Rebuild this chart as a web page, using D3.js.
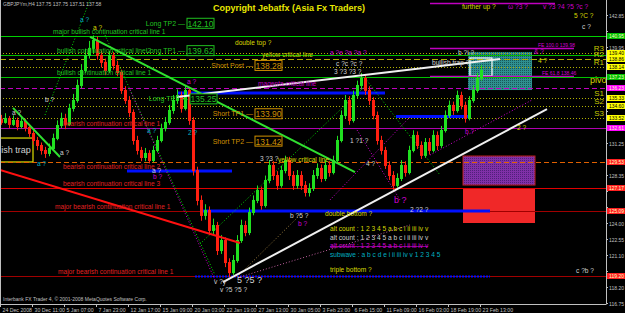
<!DOCTYPE html>
<html>
<head>
<meta charset="utf-8">
<script src="https://cdn.jsdelivr.net/npm/d3@7"></script>
<style>
  body { margin: 0; background: #000; }
  text { font-family: "Liberation Sans", Arial, sans-serif; }
</style>
</head>
<body>
<svg id="chart"></svg>
<script>
// GBPJPY H4, one candle every two bars (8h)
const closes = [
  133.16,133.52,132.98,133.34,132.79,133.25,132.70,132.16,131.52,131.07,
  130.62,130.35,130.80,131.71,132.88,133.52,132.98,134.43,135.15,136.51,
  137.87,139.23,139.87,140.59,139.23,138.60,137.87,139.23,138.32,137.69,
  136.06,135.15,134.06,131.52,130.62,129.98,130.35,129.71,130.62,131.52,
  132.61,133.16,134.24,135.15,135.60,134.43,136.06,133.34,128.80,126.09,
  124.73,125.18,123.37,123.82,121.55,122.46,120.46,119.55,120.65,122.46,
  123.82,123.18,125.00,126.09,126.99,125.63,127.90,129.26,128.35,127.45,
  128.80,129.71,128.35,127.45,128.35,127.45,126.81,127.17,128.35,128.99,
  128.08,129.26,128.62,129.71,131.52,133.79,135.15,133.34,135.60,136.51,
  137.15,136.06,135.15,133.79,131.52,130.62,129.26,128.35,127.45,128.08,
  129.26,128.62,130.62,131.98,131.07,130.17,131.34,130.62,131.98,131.07,
  132.43,133.79,134.70,134.24,135.60,134.70,133.52,135.15,136.06,137.15,
  137.87
];
const highs = [
  133.80,133.95,133.70,133.75,133.55,133.60,133.45,132.95,132.40,131.80,
  131.30,130.90,131.20,132.10,133.30,134.00,133.90,134.80,135.70,137.00,
  138.40,139.80,140.50,141.00,140.90,139.60,138.90,139.60,139.50,138.70,
  137.90,136.40,135.50,134.30,131.90,130.90,130.80,130.60,131.00,131.90,
  133.00,133.60,134.70,135.60,136.10,135.90,136.50,136.30,133.60,129.10,
  126.50,125.70,125.50,124.40,124.10,122.90,122.70,120.80,121.10,122.90,
  124.30,124.20,125.40,126.50,127.40,127.30,128.30,129.70,129.60,128.70,
  129.20,130.10,130.00,128.70,128.80,128.70,127.80,127.60,128.80,129.40,
  129.30,129.70,129.60,130.10,131.90,134.20,135.60,135.50,136.00,136.90,
  137.60,137.40,136.40,135.40,134.10,131.90,130.90,129.60,128.70,128.50,
  129.70,129.60,131.00,132.40,132.30,131.40,131.70,131.70,132.40,132.30,
  132.80,134.20,135.10,135.00,136.00,135.90,135.00,135.50,136.50,137.60,
  138.30
];
const lows = [
  132.90,133.00,132.60,132.80,132.40,132.55,132.30,131.80,131.10,130.60,
  130.20,129.90,130.05,130.55,131.50,132.60,132.50,132.80,134.10,134.90,
  136.20,137.60,138.90,139.40,138.80,138.10,137.40,137.60,137.90,137.30,
  135.70,134.80,133.60,131.10,130.20,129.60,129.60,129.40,129.50,130.40,
  131.30,132.30,132.90,133.90,134.80,134.00,134.20,132.90,128.30,125.60,
  124.20,124.30,122.90,123.00,121.10,121.20,120.00,119.10,119.30,120.40,
  122.20,122.80,122.90,124.70,125.80,125.20,125.40,127.60,127.90,127.00,
  127.20,128.50,127.90,127.00,127.10,127.00,126.40,126.40,126.90,128.00,
  127.70,127.80,128.20,128.40,129.50,131.30,133.50,132.90,133.10,135.30,
  136.10,135.60,134.70,133.40,131.10,130.20,128.90,127.90,127.00,127.20,
  127.80,128.20,128.40,130.40,130.70,129.80,129.90,130.20,130.40,130.60,
  130.80,132.20,133.50,133.80,134.00,134.30,133.10,133.30,134.90,135.80,
  136.90
];

const timeLabels = ["24 Dec 2008","30 Dec 11:00","5 Jan 07:00","7 Jan 23:00","12 Jan 17:00",
  "15 Jan 09:00","20 Jan 03:00","22 Jan 19:00","27 Jan 13:00","30 Jan 05:00","3 Feb 23:00",
  "6 Feb 15:00","11 Feb 09:00","16 Feb 03:00","18 Feb 19:00","23 Feb 13:00"];

const priceTicks = [142.85,141.40,139.95,138.50,137.05,135.60,134.15,132.70,131.25,129.80,
  128.35,126.90,125.45,124.00,122.55,121.10,119.65,118.20,116.75];

// horizontal levels: price and the bar span they cover
const levels = [
  { id: "topMag",     price: 143.94, from: 107.5, to: 138.75 },
  { id: "majorBull",  price: 140.95, from: 0, to: 151.5, name: "major bullish continuation critical line 1" },
  { id: "fe100",      price: 139.86, from: 107.5, to: 143.5 },
  { id: "r3",         price: 139.40, from: 0, to: 151.5, tag: "R3" },
  { id: "bullCrit2",  price: 139.22, from: 0, to: 151.5, name: "bullish continuation critical line 2" },
  { id: "r2",         price: 138.86, from: 0, to: 151.5, tag: "R2", name: "yellow critical line" },
  { id: "r1",         price: 138.14, from: 0, to: 151.5, tag: "R1" },
  { id: "fe618",      price: 137.34, from: 107.5, to: 143.5 },
  { id: "bullCrit1",  price: 137.23, from: 0, to: 151.5, name: "bullish continuation critical line 1" },
  { id: "magCrit",    price: 136.23, from: 0, to: 151.5, name: "magenta critical line" },
  { id: "s1",         price: 135.33, from: 0, to: 151.5, tag: "S1" },
  { id: "s2",         price: 134.60, from: 0, to: 151.5, tag: "S2" },
  { id: "s3",         price: 133.52, from: 0, to: 151.5, tag: "S3" },
  { id: "bearCrit1",  price: 132.61, from: 0, to: 151.5, name: "bearish continuation critical line 1" },
  { id: "bearCrit2",  price: 129.53, from: 0, to: 151.5, name: "bearish continuation critical line 2" },
  { id: "bearCrit3",  price: 127.17, from: 0, to: 151.5, name: "bearish continuation critical line 3" },
  { id: "majorBear1", price: 125.09, from: 0, to: 151.5, name: "major bearish continuation critical line 1" },
  { id: "majorBear2", price: 119.20, from: 0, to: 151.5, name: "major bearish continuation critical line 1" }
];

// blue support / resistance segments
const blueSegments = [
  { price: 135.78, from: 44.5, to: 96.25 },
  { price: 133.65, from: 99, to: 117.5 },
  { price: 128.71, from: 31.75, to: 58 },
  { price: 125.09, from: 50, to: 122.5 },
  { price: 119.15, from: 48.75, to: 122.5, dotted: true }
];

// trend lines [bar, price] -> [bar, price]
const trendLines = [
  { id: "white", a: [44.25, 135.42], b: [125, 138.86] },
  { id: "white", a: [55.75, 118.65], b: [136.75, 134.33] },
  { id: "green", a: [22.5, 140.86], b: [88.75, 128.62] },
  { id: "green", a: [3.25, 134.43], b: [15, 129.98] },
  { id: "red",   a: [0, 128.80], b: [60, 122.19] }
];

const dottedLines = [
  { id: "green",   a: [11.25, 133.79], b: [22.5, 144.21] },
  { id: "green",   a: [26.25, 141.04], b: [53.75, 119.29] },
  { id: "magenta", a: [32.5, 136.05], b: [53.75, 118.83] },
  { id: "green",   a: [50, 122.10], b: [91.25, 136.41] },
  { id: "magenta", a: [107.5, 130.16], b: [133, 135.15] },
  { id: "tan",     a: [59.25, 119.11], b: [75, 124.72] },
  { id: "pink",    a: [60, 119.11], b: [102.5, 123.82] },
  { id: "green",   a: [91.25, 137.14], b: [110, 128.35] },
  { id: "magenta", a: [82.5, 126.09], b: [102.5, 133.61] },
  { id: "magenta", a: [89.25, 132.43], b: [100, 126.09] }
];

// zones: bar span and price span
const zones = [
  { id: "teal",   from: 117, to: 133, top: 139.50, bottom: 136.05 },
  { id: "purple", from: 115.75, to: 133.75, top: 130.07, bottom: 127.44 },
  { id: "red",    from: 115.75, to: 133.75, top: 127.17, bottom: 124.00 },
  { id: "trapW",  from: 117.5, to: 123, top: 138.95, bottom: 137.32 },
  { id: "trapY",  from: 0, to: 8.25, top: 131.70, bottom: 129.53 }
];

const targets = [
  { name: "Long TP2",   value: 142.10, bar: 46.75, side: "long" },
  { name: "Long TP1",   value: 139.62, bar: 46.75, side: "long" },
  { name: "Long TP3",   value: 135.25, bar: 47.5,  side: "long" },
  { name: "Short Post", value: 138.28, bar: 63.75, side: "short" },
  { name: "Short TP1",  value: 133.90, bar: 63.75, side: "short" },
  { name: "Short TP2",  value: 131.42, bar: 63.75, side: "short" }
];

const notes = [
  { t: "double top ?", bar: 58.75, price: 140.40, c: "yellow" },
  { t: "yellow critical line", bar: 69.5, price: 129.80, c: "yellow" },
  { t: "3 ?3 ?", bar: 65, price: 129.85, c: "white" },
  { t: "double bottom ?", bar: 81.25, price: 124.85, c: "yellow" },
  { t: "triple bottom ?", bar: 82.5, price: 119.75, c: "yellow" },
  { t: "alt count  :  1 2 3 4 5 a b c i ii iii iv v", bar: 82.5, price: 123.46, c: "yellow" },
  { t: "alt count  :  1 2 3 4 5 a b c i ii iii iv v", bar: 82.5, price: 122.73, c: "white" },
  { t: "alt count  :  1 2 3 4 5 a b c i ii iii iv v", bar: 82.5, price: 121.92, c: "magenta", strike: true },
  { t: "subwave  :  a b c d e i ii iii iv v 1 2 3 4 5", bar: 82.5, price: 121.19, c: "cyan" },
  { t: "further up ?", bar: 115.5, price: 143.60, c: "yellow" },
  { t: "ω ?3 ?", bar: 127, price: 143.60, c: "magenta" },
  { t: "v ?3 ?4 ?5 ?c ?", bar: 135.75, price: 143.60, c: "magenta" },
  { t: "5 ?C ?", bar: 143.5, price: 142.78, c: "yellow" },
  { t: "c ?", bar: 145.5, price: 141.80, c: "white" },
  { t: "c ?b ?", bar: 144, price: 119.68, c: "white" },
  { t: "bullish trap ?", bar: 108, price: 138.59, c: "white" },
  { t: "ish trap", bar: 0.3, price: 130.55, c: "white", big: true },
  { t: "b ?i ?", bar: 114.5, price: 139.45, c: "white" },
  { t: "& ?", bar: 133.5, price: 139.50, c: "magenta" },
  { t: "4 ?", bar: 134.5, price: 138.77, c: "yellow" },
  { t: "FE 100.0 139.98", bar: 134.5, price: 140.20, c: "magenta", small: true },
  { t: "FE 61.8 138.46", bar: 135.5, price: 137.60, c: "magenta", small: true },
  { t: "pivot", bar: 147.5, price: 136.88, c: "yellow", big: true },
  { t: "a ?e ?a ?a ?", bar: 82.5, price: 139.41, c: "magenta" },
  { t: "c ?c ?c ?", bar: 84, price: 138.50, c: "white" },
  { t: "3 ?3 ?3 ?", bar: 83.5, price: 137.69, c: "white" },
  { t: "b ?", bar: 11.25, price: 135.15, c: "white" },
  { t: "a ?", bar: 20, price: 142.40, c: "cyan" },
  { t: "a ?", bar: 23.25, price: 141.76, c: "yellow" },
  { t: "a ?", bar: 46.75, price: 136.78, c: "magenta" },
  { t: "a ?", bar: 9.25, price: 129.35, c: "cyan" },
  { t: "a ?", bar: 15, price: 130.43, c: "white" },
  { t: "2 ?", bar: 47, price: 132.16, c: "cyan" },
  { t: "a ?", bar: 36.75, price: 132.34, c: "cyan" },
  { t: "a ?", bar: 38, price: 128.80, c: "white" },
  { t: "b ?", bar: 38.25, price: 128.17, c: "magenta" },
  { t: "v ?y", bar: 53.5, price: 118.74, c: "white" },
  { t: "5 ?5 ?", bar: 59.25, price: 118.83, c: "white", big: true },
  { t: "v ?5 ?5 ?", bar: 55, price: 118.00, c: "white" },
  { t: "b ?5 ?", bar: 72.5, price: 124.72, c: "white" },
  { t: "b ?", bar: 74.5, price: 124.00, c: "magenta" },
  { t: "b ?", bar: 98.5, price: 126.05, c: "magenta", big: true },
  { t: "b ?", bar: 116.25, price: 132.25, c: "magenta" },
  { t: "2 ?", bar: 129.25, price: 132.61, c: "yellow" },
  { t: "1 ?1 ?", bar: 87.5, price: 131.50, c: "white" },
  { t: "4 ?", bar: 91.5, price: 129.40, c: "white" },
  { t: "2 ?2 ?", bar: 102.5, price: 125.20, c: "white" },
  { t: "a ?", bar: 3, price: 134.00, c: "white" }
];

const W = 625, H = 313, plotRight = 606, plotBottom = 304;
const colors = {
  yellow: "#d8d800", white: "#d0d0d0", magenta: "#d000d0", cyan: "#00b0c0",
  green: "#00e000", red: "#ff1010", tan: "#a08040", pink: "#c060a0"
};
const levelStyle = {
  topMag:     { stroke: "#c000c0", w: 1.5 },
  majorBull:  { stroke: "#00d000", w: 1.2, text: "#20c020", labelBar: 13.25, axis: "#00c000" },
  fe100:      { stroke: "#c000c0", w: 1.5 },
  r3:         { stroke: "#b0b000", dash: "1,2", w: 1, axis: "#ffff00" },
  bullCrit2:  { stroke: "#00c000", w: 1, text: "#20c020", labelBar: 14.25 },
  r2:         { stroke: "#b0b000", dash: "6,3", w: 1, text: "#c8c800", labelBar: 65.5, axis: "#ffff00" },
  r1:         { stroke: "#b0b000", dash: "1,2", w: 1, axis: "#ffff00" },
  fe618:      { stroke: "#c000c0", w: 1.5 },
  bullCrit1:  { stroke: "#00c000", w: 1, text: "#20c020", labelBar: 14.25, axis: "#00c000" },
  magCrit:    { stroke: "#c000c0", dash: "5,3", w: 1.2, text: "#c000c0", labelBar: 64.5, axis: "#ff00ff" },
  s1:         { stroke: "#b0b000", dash: "1,2", w: 1, axis: "#ffff00" },
  s2:         { stroke: "#b0b000", dash: "1,2", w: 1, axis: "#ffff00" },
  s3:         { stroke: "#b0b000", dash: "1,2", w: 1, axis: "#ffff00" },
  bearCrit1:  { stroke: "#b000b0", w: 1.2, text: "#e02020", labelBar: 15.75, axis: "#ff00ff" },
  bearCrit2:  { stroke: "#e06000", dash: "5,3", w: 1.2, text: "#e02020", labelBar: 15.75, below: true, axis: "#ff2020" },
  bearCrit3:  { stroke: "#e00000", w: 1.2, text: "#e02020", labelBar: 15.75, axis: "#ff2020" },
  majorBear1: { stroke: "#a00000", w: 1.2, text: "#e02020", labelBar: 13.75, axis: "#ff2020" },
  majorBear2: { stroke: "#a00000", w: 1.2, text: "#e02020", labelBar: 14.5, axis: "#ff2020" }
};
const zoneStyle = {
  teal:   { fill: "url(#dotTeal)" },
  purple: { fill: "url(#dotPurple)", stroke: "#c02020" },
  red:    { fill: "#f02828" },
  trapW:  { fill: "none", stroke: "#ffffff", w: 1.2 },
  trapY:  { fill: "none", stroke: "#e0e000", w: 1.2 }
};

const svg = d3.select("#chart").attr("width", W).attr("height", H)
  .style("background", "#000");

const defs = svg.append("defs");
function dotPattern(id, bg, dot) {
  const p = defs.append("pattern").attr("id", id)
    .attr("width", 2).attr("height", 2).attr("patternUnits", "userSpaceOnUse");
  p.append("rect").attr("width", 2).attr("height", 2).attr("fill", bg);
  p.append("rect").attr("width", 1).attr("height", 1).attr("fill", dot);
}
dotPattern("dotTeal", "#2f9090", "#185858");
dotPattern("dotPurple", "#8030a8", "#50207a");
defs.append("clipPath").attr("id", "plot")
  .append("rect").attr("width", plotRight).attr("height", plotBottom);

const x = d3.scaleLinear().domain([0, 151.5]).range([0, plotRight]);
const y = d3.scaleLinear().domain([116.75, 142.85]).range([303, 15]);

const plot = svg.append("g").attr("clip-path", "url(#plot)");

// zones behind everything
plot.append("g").selectAll("rect").data(zones).join("rect")
  .attr("x", d => x(d.from)).attr("y", d => y(d.top))
  .attr("width", d => x(d.to) - x(d.from)).attr("height", d => y(d.bottom) - y(d.top))
  .attr("fill", d => zoneStyle[d.id].fill)
  .attr("stroke", d => zoneStyle[d.id].stroke || "none")
  .attr("stroke-width", d => zoneStyle[d.id].w || 1);

// horizontal levels
plot.append("g").selectAll("line").data(levels).join("line")
  .attr("x1", d => x(d.from)).attr("x2", d => x(d.to))
  .attr("y1", d => Math.round(y(d.price)) + 0.5).attr("y2", d => Math.round(y(d.price)) + 0.5)
  .attr("stroke", d => levelStyle[d.id].stroke)
  .attr("stroke-width", d => levelStyle[d.id].w)
  .attr("stroke-dasharray", d => levelStyle[d.id].dash || null);

plot.append("g").selectAll("line").data(blueSegments).join("line")
  .attr("x1", d => x(d.from)).attr("x2", d => x(d.to))
  .attr("y1", d => y(d.price)).attr("y2", d => y(d.price))
  .attr("stroke", "#0010ff")
  .attr("stroke-width", d => d.dotted ? 2 : 3)
  .attr("stroke-dasharray", d => d.dotted ? "2,1" : null);

// dotted channel lines
plot.append("g").selectAll("line").data(dottedLines).join("line")
  .attr("x1", d => x(d.a[0])).attr("y1", d => y(d.a[1]))
  .attr("x2", d => x(d.b[0])).attr("y2", d => y(d.b[1]))
  .attr("stroke", d => colors[d.id]).attr("stroke-width", 1)
  .attr("stroke-dasharray", "1,2");

// candles
const bars = closes.map((c, i) => ({
  i, open: i ? closes[i - 1] : 133.46, close: c, high: highs[i], low: lows[i]
}));
const candle = plot.append("g").selectAll("g").data(bars).join("g")
  .attr("stroke", d => d.close >= d.open ? "#20e020" : "#ff2010");
candle.append("line")
  .attr("x1", d => x(d.i) + 1.5).attr("x2", d => x(d.i) + 1.5)
  .attr("y1", d => y(d.high)).attr("y2", d => y(d.low))
  .attr("stroke-width", 1);
candle.append("line")
  .attr("x1", d => x(d.i) + 1.5).attr("x2", d => x(d.i) + 1.5)
  .attr("y1", d => y(Math.max(d.open, d.close)))
  .attr("y2", d => y(Math.min(d.open, d.close)) + 1)
  .attr("stroke-width", 3);

// trend lines on top of candles
plot.append("g").selectAll("line").data(trendLines).join("line")
  .attr("x1", d => x(d.a[0])).attr("y1", d => y(d.a[1]))
  .attr("x2", d => x(d.b[0])).attr("y2", d => y(d.b[1]))
  .attr("stroke", d => d.id === "white" ? "#f0f0f0" : d.id === "green" ? "#30e030" : "#ff1010")
  .attr("stroke-width", 2);

// level captions
plot.append("g").selectAll("text").data(levels.filter(d => d.name)).join("text")
  .attr("x", d => x(levelStyle[d.id].labelBar))
  .attr("y", d => y(d.price) + (levelStyle[d.id].below ? 7 : -2))
  .attr("fill", d => levelStyle[d.id].text)
  .attr("font-size", 6.6)
  .text(d => d.name);

plot.append("g").selectAll("text").data(levels.filter(d => d.tag)).join("text")
  .attr("x", plotRight - 2).attr("text-anchor", "end")
  .attr("y", d => y(d.price) - 2)
  .attr("fill", "#c8c800").attr("font-size", 8)
  .text(d => d.tag);

// target boxes
const tp = plot.append("g").selectAll("g").data(targets).join("g")
  .attr("transform", d => `translate(${x(d.bar)},${y(d.value)})`);
tp.append("text").attr("x", -2).attr("y", 2.5).attr("text-anchor", "end")
  .attr("font-size", 7)
  .attr("fill", d => d.side === "long" ? "#20c020" : "#d09000")
  .text(d => d.name + " \u2014");
tp.append("rect").attr("x", 0).attr("y", -5).attr("width", 27).attr("height", 10)
  .attr("fill", "#000")
  .attr("stroke", d => d.side === "long" ? "#20c020" : "#d09000");
tp.append("text").attr("x", 13.5).attr("y", 3.5).attr("text-anchor", "middle")
  .attr("font-size", 8.5)
  .attr("fill", d => d.side === "long" ? "#20c020" : "#d09000")
  .text(d => d.value.toFixed(2));

// wave notes
plot.append("g").selectAll("text").data(notes).join("text")
  .attr("x", d => x(d.bar)).attr("y", d => y(d.price) + 2.5)
  .attr("fill", d => colors[d.c])
  .attr("font-size", d => d.big ? 9 : d.small ? 5 : 6.6)
  .attr("text-decoration", d => d.strike ? "line-through" : null)
  .text(d => d.t);

// title and header
svg.append("text").attr("x", 289).attr("y", 11).attr("text-anchor", "middle")
  .attr("fill", "#e8e800").attr("font-size", 9).attr("font-weight", "bold")
  .text("Copyright Jebatfx (Asia Fx Traders)");
svg.append("text").attr("x", 3).attr("y", 6).attr("fill", "#c0c0c0").attr("font-size", 5)
  .text("GBPJPYm,H4  137.75  137.75  137.51  137.58");
svg.append("text").attr("x", 3).attr("y", 301).attr("fill", "#c0c0c0").attr("font-size", 5)
  .text("Interbank FX Trader 4, \u00a9 2001-2008 MetaQuotes Software Corp.");

// frame and axes
svg.append("line").attr("x1", 0.5).attr("x2", 0.5).attr("y1", 0).attr("y2", plotBottom)
  .attr("stroke", "#c0c0c0");
svg.append("line").attr("x1", 0).attr("x2", plotRight + 0.5)
  .attr("y1", plotBottom + 0.5).attr("y2", plotBottom + 0.5).attr("stroke", "#c0c0c0");
svg.append("line").attr("x1", plotRight + 0.5).attr("x2", plotRight + 0.5)
  .attr("y1", 0).attr("y2", plotBottom).attr("stroke", "#c0c0c0");

// highlighted level prices sit over the scale, so skip tick labels they would cover
const axisLevels = levels.filter(d => levelStyle[d.id].axis);
const freeTicks = priceTicks.filter(t =>
  !axisLevels.some(l => Math.abs(y(l.price) - y(t)) < 6));

const yTicks = svg.append("g").selectAll("g").data(priceTicks).join("g")
  .attr("transform", d => `translate(${plotRight},${Math.round(y(d)) + 0.5})`);
yTicks.append("line").attr("x2", 2).attr("stroke", "#c0c0c0");
yTicks.filter(d => freeTicks.includes(d)).append("text")
  .attr("x", 3).attr("y", 2).attr("fill", "#c0c0c0")
  .attr("font-size", 5).attr("textLength", 15).attr("lengthAdjust", "spacingAndGlyphs")
  .text(d => d.toFixed(2));

const tags = svg.append("g").selectAll("g").data(axisLevels).join("g")
  .attr("transform", d => `translate(${plotRight + 1},${Math.round(y(d.price))})`);
tags.append("rect").attr("y", -3).attr("width", 18).attr("height", 6)
  .attr("fill", d => levelStyle[d.id].axis);
tags.append("text").attr("x", 2).attr("y", 2).attr("font-size", 5)
  .attr("textLength", 15).attr("lengthAdjust", "spacingAndGlyphs")
  .attr("fill", d => levelStyle[d.id].axis === "#ffff00" ? "#000" : "#ffffc0")
  .text(d => d.price.toFixed(2));

const xTicks = svg.append("g").selectAll("g").data(timeLabels).join("g")
  .attr("transform", (d, i) => `translate(${Math.round(x(i * 8)) + 0.5},${plotBottom})`);
xTicks.append("line").attr("y2", 3).attr("stroke", "#c0c0c0");
xTicks.append("text").attr("x", 2).attr("y", 8).attr("fill", "#c0c0c0")
  .attr("font-size", 5.2).text(d => d);
</script>
</body>
</html>
